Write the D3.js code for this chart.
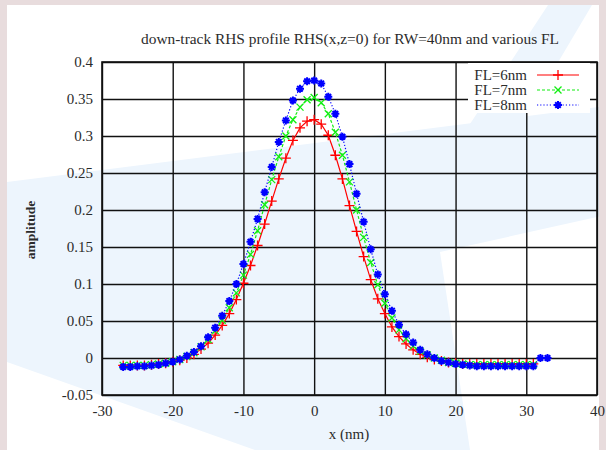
<!DOCTYPE html>
<html lang="en">
    <head>
        <meta charset="utf-8">
        <title>down-track RHS profile</title>
        <style>
            body {
                margin: 0;
                background: #e8dcdd;
            }
            svg text {
                font-family: "Liberation Serif", "DejaVu Serif", serif;
                fill: #2b2b2b;
            }
        </style>
    </head>
    <body>
        <div id="chart"></div>
        <script src="https://d3js.org/d3.v7.min.js"></script>
        <script>
            // x positions in nm (red and green stop at 31, blue goes on to 33)
            const xs = d3.range(-27, 32);
            const xsBlue = d3.range(-27, 34);

            const fl6 = [
                -0.010, -0.010, -0.010, -0.010, -0.009, -0.008, -0.007, -0.005, -0.003, 0.000,
                0.005, 0.012, 0.020, 0.031, 0.044, 0.060, 0.079, 0.101, 0.125, 0.152,
                0.181, 0.212, 0.242, 0.270, 0.294, 0.311, 0.320, 0.322, 0.316, 0.301,
                0.274, 0.242, 0.206, 0.171, 0.137, 0.106, 0.080, 0.060, 0.042, 0.029,
                0.019, 0.011, 0.005, 0.001, -0.002, -0.004, -0.006, -0.007, -0.008, -0.008,
                -0.008, -0.008, -0.008, -0.008, -0.008, -0.008, -0.008, -0.008, -0.008
            ];
            const fl7 = [
                -0.010, -0.010, -0.010, -0.010, -0.009, -0.008, -0.007, -0.005, -0.002, 0.002,
                0.007, 0.015, 0.025, 0.037, 0.051, 0.068, 0.088, 0.112, 0.140, 0.172,
                0.207, 0.241, 0.272, 0.300, 0.322, 0.339, 0.349, 0.352, 0.345, 0.330,
                0.305, 0.274, 0.238, 0.200, 0.163, 0.129, 0.099, 0.074, 0.054, 0.038,
                0.026, 0.016, 0.009, 0.004, 0.000, -0.003, -0.006, -0.007, -0.008, -0.009,
                -0.009, -0.009, -0.009, -0.009, -0.009, -0.009, -0.009, -0.009, -0.009
            ];
            const fl8 = [
                -0.012, -0.012, -0.011, -0.011, -0.010, -0.009, -0.007, -0.005, -0.002, 0.003,
                0.008, 0.016, 0.028, 0.041, 0.057, 0.077, 0.100, 0.127, 0.157, 0.188,
                0.224, 0.258, 0.292, 0.321, 0.348, 0.364, 0.374, 0.375, 0.371, 0.353,
                0.330, 0.299, 0.262, 0.222, 0.184, 0.147, 0.113, 0.086, 0.064, 0.045,
                0.032, 0.021, 0.011, 0.005, 0.000, -0.004, -0.006, -0.008, -0.009, -0.010,
                -0.011, -0.011, -0.011, -0.011, -0.011, -0.011, -0.011, -0.011, -0.011, 0.000,
                0.000
            ];

            const seriesNames = ["FL=6nm", "FL=7nm", "FL=8nm"];
            const seriesColors = ["#ff0000", "#11ee11", "#0000ff"];

            const xTicks = [-30, -20, -10, 0, 10, 20, 30, 40];
            const xTickLabels = ["-30", "-20", "-10", "0", "10", "20", "30", "40"];
            const yTicks = [-0.05, 0, 0.05, 0.1, 0.15, 0.2, 0.25, 0.3, 0.35, 0.4];
            const yTickLabels = ["-0.05", "0", "0.05", "0.1", "0.15", "0.2", "0.25", "0.3", "0.35", "0.4"];

            const W = 606, H = 450;
            const plotL = 102, plotR = 597, plotT = 62, plotB = 395;

            const svg = d3.select("#chart").append("svg")
                .attr("width", W)
                .attr("height", H);

            // page panel with the faint watermark shapes behind the chart
            svg.append("rect").attr("x", 7).attr("y", 5)
                .attr("width", 592).attr("height", H - 5).attr("fill", "#ffffff");
            const shapes = [
                [[7, 182], [606, 106], [606, 215], [440, 252], [470, 450], [255, 450], [7, 362]],
                [[548, 5], [592, 5], [525, 118], [470, 124]]
            ];
            svg.append("g").selectAll("polygon").data(shapes).join("polygon")
                .attr("points", d => d.map(p => p.join(",")).join(" "))
                .attr("fill", "#edf5fd");
            svg.append("rect").attr("x", 599).attr("y", 0)
                .attr("width", 7).attr("height", H).attr("fill", "#e8dcdd");

            const x = d3.scaleLinear().domain([-30, 40]).range([plotL, plotR]);
            const y = d3.scaleLinear().domain([-0.05, 0.4]).range([plotB, plotT]);

            // axes, with the ticks stretched into grid lines
            const yAxis = svg.append("g")
                .attr("transform", `translate(${plotL},0)`)
                .call(d3.axisLeft(y).tickValues(yTicks)
                    .tickFormat((d, i) => yTickLabels[i])
                    .tickSize(-(plotR - plotL)).tickPadding(9));
            const xAxis = svg.append("g")
                .attr("transform", `translate(0,${plotB})`)
                .call(d3.axisBottom(x).tickValues(xTicks)
                    .tickFormat((d, i) => xTickLabels[i])
                    .tickSize(-(plotB - plotT)).tickPadding(10));
            [xAxis, yAxis].forEach(a => {
                a.select(".domain").remove();
                a.selectAll("line").attr("stroke", "#111").attr("stroke-width", 1.4);
                a.selectAll("text").attr("font-size", 15)
                    .style("font-family", "Liberation Serif, serif").attr("fill", "#2b2b2b");
            });

            svg.append("rect")
                .attr("x", plotL).attr("y", plotT)
                .attr("width", plotR - plotL).attr("height", plotB - plotT)
                .attr("fill", "none").attr("stroke", "#111").attr("stroke-width", 1.6);

            // legend box hides the grid behind it
            svg.append("rect").attr("x", 468).attr("y", 63)
                .attr("width", 122).attr("height", 50).attr("fill", "#ffffff");

            const markers = [
                () => "M-5,0H5M0,-5V5",
                () => "M-3.5,-3.5L3.5,3.5M-3.5,3.5L3.5,-3.5",
                () => "M-4,0H4M0,-4V4M-2.8,-2.8L2.8,2.8M-2.8,2.8L2.8,-2.8"
            ];
            const markerWidths = [1.3, 1.3, 2];
            const dashes = [null, "3,2", "1.2,2"];

            const allData = [
                xs.map((v, i) => [v, fl6[i]]),
                xs.map((v, i) => [v, fl7[i]]),
                xsBlue.map((v, i) => [v, fl8[i]])
            ];

            const line = d3.line().x(d => x(d[0])).y(d => y(d[1]));

            allData.forEach((data, k) => {
                const g = svg.append("g");
                g.append("path").datum(data)
                    .attr("d", line)
                    .attr("fill", "none")
                    .attr("stroke", seriesColors[k])
                    .attr("stroke-width", 1.2)
                    .attr("stroke-dasharray", dashes[k]);
                g.selectAll("path.pt").data(data).join("path")
                    .attr("class", "pt")
                    .attr("transform", d => `translate(${x(d[0])},${y(d[1])})`)
                    .attr("d", markers[k]())
                    .attr("fill", "none")
                    .attr("stroke", seriesColors[k])
                    .attr("stroke-width", markerWidths[k]);
                if (k === 2) {
                    g.selectAll("circle").data(data).join("circle")
                        .attr("cx", d => x(d[0])).attr("cy", d => y(d[1]))
                        .attr("r", 1.7).attr("fill", seriesColors[k]);
                }

                // legend entry
                const ly = 75 + k * 15;
                svg.append("text").attr("x", 527).attr("y", ly + 5)
                    .attr("text-anchor", "end").attr("font-size", 15)
                    .text(seriesNames[k]);
                svg.append("line").attr("x1", 537).attr("x2", 579)
                    .attr("y1", ly).attr("y2", ly)
                    .attr("stroke", seriesColors[k]).attr("stroke-width", 1.2)
                    .attr("stroke-dasharray", dashes[k]);
                svg.append("path").attr("transform", `translate(558,${ly})`)
                    .attr("d", markers[k]())
                    .attr("fill", "none").attr("stroke", seriesColors[k])
                    .attr("stroke-width", markerWidths[k]);
                if (k === 2) {
                    svg.append("circle").attr("cx", 558).attr("cy", ly)
                        .attr("r", 1.7).attr("fill", seriesColors[k]);
                }
            });

            svg.append("text")
                .attr("x", 350).attr("y", 44)
                .attr("text-anchor", "middle").attr("font-size", 15.4)
                .text("down-track RHS profile RHS(x,z=0) for RW=40nm and various FL");

            svg.append("text")
                .attr("x", 349).attr("y", 439)
                .attr("text-anchor", "middle").attr("font-size", 15)
                .text("x (nm)");

            svg.append("text")
                .attr("transform", "translate(35,230) rotate(-90)")
                .attr("text-anchor", "middle").attr("font-size", 13.5)
                .attr("font-weight", "bold")
                .text("amplitude");
        </script>
    </body>
</html>
